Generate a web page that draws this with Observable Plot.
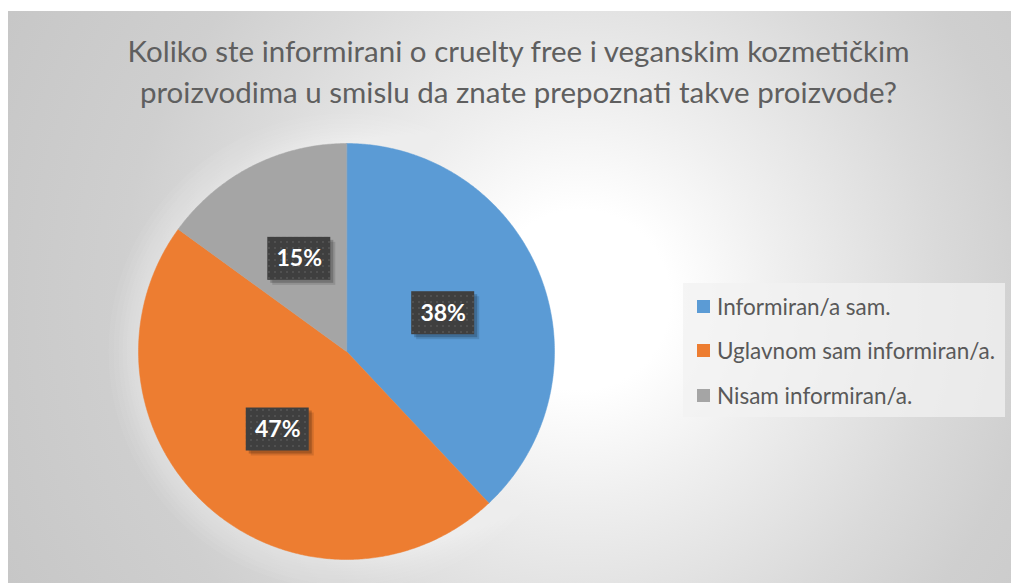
<!DOCTYPE html>
<html><head><meta charset="utf-8">
<script src="https://cdn.jsdelivr.net/npm/d3@7"></script>
<script src="https://cdn.jsdelivr.net/npm/@observablehq/plot@0.6"></script>
<style>
html,body{margin:0;padding:0;background:#fff;}
#chart{position:absolute;left:8px;top:11px;width:1003px;height:572px;overflow:hidden;
  background: radial-gradient(circle 660px at 572px 289px, #ffffff 0px, #ffffff 90px, #efefef 200px, #dadada 360px, #cfcfcf 460px, #c6c6c6 660px);}
#title{position:absolute;left:0;top:19px;width:1021px;text-align:center;font-family:Lato,"Open Sans",sans-serif;font-weight:400;
  font-size:29.5px;line-height:41px;color:#5f5f5f;white-space:nowrap;}
#plotwrap{position:absolute;left:0;top:120px;}
#legend{position:absolute;left:675px;top:272px;width:322px;height:134px;background:rgba(242,242,242,0.75);
  font-family:Lato,"Open Sans",sans-serif;font-size:22.5px;color:#595959;}
.lrow{position:absolute;left:0;height:26px;display:flex;align-items:center;white-space:nowrap;}
.sw{width:13px;height:13px;margin-left:14px;margin-right:7px;}
</style>
</head><body>
<div id="chart">
  <div id="title">Koliko ste informirani o cruelty free i veganskim kozmetičkim<br>proizvodima u smislu da znate prepoznati takve proizvode?</div>
  <div id="plotwrap"></div>
  <div id="legend"></div>
</div>
<script>
const categories = ["Informiran/a sam.", "Uglavnom sam informiran/a.", "Nisam informiran/a."];
const values = [38, 47, 15];
const colors = ["#5B9BD5", "#ED7D31", "#A5A5A5"];

const total = d3.sum(values);
const arcs = d3.pie().sort(null).value(d => d)(values);
const slicePts = [];
arcs.forEach((a, i) => {
  const n = Math.max(2, Math.ceil((a.endAngle - a.startAngle) / (Math.PI / 360)));
  slicePts.push({cat: categories[i], x: 0, y: 0});
  for (let k = 0; k <= n; k++) {
    const t = a.startAngle + (a.endAngle - a.startAngle) * k / n;
    slicePts.push({cat: categories[i], x: Math.sin(t), y: Math.cos(t)});
  }
});
const labelsData = arcs.map((a, i) => {
  const m = (a.startAngle + a.endAngle) / 2;
  return {cat: categories[i], text: Math.round(values[i] / total * 100) + "%", x: 0.5 * Math.sin(m), y: 0.5 * Math.cos(m)};
});

const R = 208, cx = 338, cy = 220;
const hw = 31.5 / R, hh = 21.5 / R;
const center = [{x: 0, y: 0}];
const glowMarks = [30, 25, 20, 16, 12, 9, 6, 3].map(k => Plot.dot(center, {x: "x", y: "y", r: R + k, fill: "#ffffff", fillOpacity: 0.05, stroke: "none"}));
const boxX1 = d => d.x - hw, boxX2 = d => d.x + hw, boxY1 = d => d.y - hh, boxY2 = d => d.y + hh;

const svg = Plot.plot({
  width: 1003, height: 452, margin: 0,
  style: {background: "transparent", overflow: "visible"},
  x: {domain: [-1, 1], range: [cx - R, cx + R], axis: null},
  y: {domain: [-1, 1], range: [cy + R, cy - R], axis: null},
  color: {domain: categories, range: colors},
  marks: [
    ...glowMarks,
    Plot.line(slicePts, {x: "x", y: "y", z: "cat", fill: "cat", stroke: "cat", strokeWidth: 0.5, curve: "linear-closed"}),
    Plot.rect(labelsData, {x1: boxX1, x2: boxX2, y1: boxY1, y2: boxY2, dx: 5, dy: 5, fill: "#000", fillOpacity: 0.12}),
    Plot.rect(labelsData, {x1: boxX1, x2: boxX2, y1: boxY1, y2: boxY2, dx: 3, dy: 3, fill: "#000", fillOpacity: 0.2}),
    Plot.rect(labelsData, {x1: boxX1, x2: boxX2, y1: boxY1, y2: boxY2, fill: "url(#dots)"}),
    Plot.text(labelsData, {x: "x", y: "y", text: "text", fill: "white", fontSize: 23, fontWeight: "bold", fontFamily: "Lato, 'Open Sans', sans-serif"})
  ]
});
const defs = d3.select(svg).append("defs");
const pat = defs.append("pattern").attr("id", "dots").attr("width", 6).attr("height", 6).attr("patternUnits", "userSpaceOnUse");
pat.append("rect").attr("width", 6).attr("height", 6).attr("fill", "#3f3f3f");
pat.append("circle").attr("cx", 3).attr("cy", 3).attr("r", 1).attr("fill", "#555555");
document.getElementById("plotwrap").appendChild(svg);

const legend = d3.select("#legend");
categories.forEach((c, i) => {
  const row = legend.append("div").attr("class", "lrow").style("top", (10 + i * 44.5) + "px");
  row.append("div").attr("class", "sw").style("background", colors[i]);
  row.append("span").text(c);
});
</script>
</body></html>
